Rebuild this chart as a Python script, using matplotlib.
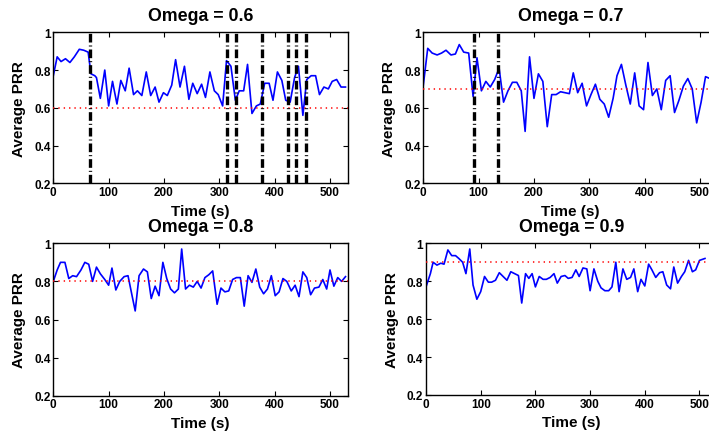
import matplotlib
matplotlib.use("Agg")
import matplotlib.pyplot as plt

plt.rcParams['font.family'] = ['Liberation Sans', 'DejaVu Sans']
plt.rcParams['font.weight'] = 'bold'

# Average PRR traces, one per Omega setting
t_06 = [0, 7, 14, 22, 30, 38, 47, 55, 63, 68, 75, 78, 85, 93, 100, 107, 115, 122,
        130, 137, 145, 152, 160, 168, 176, 184, 191, 199, 206, 214, 221, 229, 237,
        245, 252, 260, 268, 275, 283, 291, 298, 306, 313, 321, 329, 336, 344, 351,
        359, 367, 374, 382, 390, 397, 405, 413, 420, 428, 436, 443, 451, 458, 466,
        474, 481, 489, 497, 504, 512, 520, 528]
prr_06 = [0.77, 0.87, 0.845, 0.86, 0.84, 0.87, 0.91, 0.905, 0.895, 0.78, 0.77, 0.76,
          0.65, 0.80, 0.61, 0.74, 0.62, 0.745, 0.69, 0.81, 0.67, 0.69, 0.665, 0.79,
          0.665, 0.71, 0.63, 0.68, 0.665, 0.72, 0.855, 0.71, 0.82, 0.645, 0.73,
          0.675, 0.725, 0.655, 0.79, 0.69, 0.67, 0.61, 0.85, 0.82, 0.64, 0.69, 0.69,
          0.83, 0.57, 0.61, 0.62, 0.73, 0.73, 0.64, 0.79, 0.745, 0.64, 0.63, 0.76,
          0.82, 0.56, 0.75, 0.77, 0.77, 0.67, 0.71, 0.70, 0.74, 0.75, 0.71, 0.71]

t_07 = [0, 8, 16, 25, 33, 41, 50, 58, 65, 73, 82, 90, 97, 105, 113, 121, 129, 137,
        145, 153, 161, 169, 177, 184, 192, 200, 208, 216, 224, 232, 240, 248, 256,
        264, 271, 279, 287, 295, 303, 311, 319, 327, 335, 343, 350, 358, 366, 374,
        382, 390, 398, 406, 414, 422, 430, 438, 446, 454, 462, 470, 478, 486, 494,
        502, 510, 518, 526]
prr_07 = [0.72, 0.915, 0.89, 0.88, 0.89, 0.905, 0.88, 0.885, 0.935, 0.895, 0.89,
          0.66, 0.865, 0.69, 0.74, 0.71, 0.75, 0.81, 0.63, 0.69, 0.735, 0.735, 0.69,
          0.475, 0.87, 0.65, 0.78, 0.74, 0.50, 0.67, 0.67, 0.685, 0.68, 0.675, 0.785,
          0.68, 0.73, 0.61, 0.67, 0.725, 0.645, 0.62, 0.55, 0.65, 0.77, 0.83, 0.72,
          0.62, 0.785, 0.61, 0.59, 0.84, 0.665, 0.70, 0.59, 0.745, 0.77, 0.575, 0.64,
          0.715, 0.755, 0.70, 0.52, 0.63, 0.765, 0.755, 0.75]

t_08 = [0, 7, 13, 21, 28, 35, 42, 50, 57, 64, 71, 78, 85, 93, 100, 106, 113, 120,
        128, 135, 142, 148, 155, 163, 170, 177, 184, 191, 198, 205, 212, 219, 226,
        232, 239, 246, 253, 260, 267, 274, 281, 288, 296, 303, 310, 317, 324, 331,
        338, 345, 352, 359, 366, 373, 380, 387, 394, 401, 408, 415, 422, 430, 437,
        444, 451, 458, 465, 472, 480, 487, 494, 500, 507, 514, 521, 528]
prr_08 = [0.80, 0.86, 0.90, 0.90, 0.815, 0.83, 0.825, 0.86, 0.90, 0.89, 0.80, 0.875,
          0.84, 0.81, 0.78, 0.87, 0.755, 0.80, 0.825, 0.83, 0.73, 0.645, 0.83, 0.865,
          0.85, 0.71, 0.775, 0.725, 0.90, 0.815, 0.76, 0.74, 0.76, 0.97, 0.76, 0.78,
          0.77, 0.80, 0.765, 0.82, 0.835, 0.855, 0.68, 0.765, 0.745, 0.75, 0.81, 0.82,
          0.82, 0.67, 0.83, 0.795, 0.865, 0.77, 0.735, 0.76, 0.83, 0.725, 0.745,
          0.815, 0.80, 0.75, 0.78, 0.72, 0.85, 0.82, 0.73, 0.765, 0.77, 0.81, 0.76,
          0.86, 0.775, 0.82, 0.80, 0.825]

t_09 = [0, 8, 13, 20, 27, 33, 40, 47, 54, 60, 67, 73, 80, 86, 93, 100, 107, 114,
        120, 127, 134, 141, 148, 155, 162, 169, 175, 182, 188, 194, 200, 207, 214,
        220, 227, 234, 240, 247, 254, 260, 267, 274, 280, 287, 294, 300, 307, 314,
        320, 327, 334, 340, 347, 353, 360, 367, 374, 380, 387, 393, 400, 407, 413,
        420, 427, 433, 440, 447, 453, 460, 467, 473, 480, 487, 493, 500, 510]
prr_09 = [0.77, 0.84, 0.90, 0.885, 0.895, 0.89, 0.965, 0.935, 0.935, 0.92, 0.90,
          0.84, 0.97, 0.78, 0.705, 0.745, 0.825, 0.795, 0.795, 0.805, 0.845, 0.825,
          0.805, 0.85, 0.84, 0.83, 0.685, 0.84, 0.815, 0.84, 0.77, 0.825, 0.81, 0.81,
          0.82, 0.84, 0.79, 0.825, 0.83, 0.815, 0.82, 0.86, 0.825, 0.87, 0.865, 0.75,
          0.865, 0.80, 0.765, 0.75, 0.75, 0.77, 0.90, 0.745, 0.865, 0.81, 0.82, 0.865,
          0.745, 0.81, 0.775, 0.89, 0.86, 0.82, 0.845, 0.85, 0.78, 0.76, 0.875, 0.79,
          0.825, 0.85, 0.91, 0.85, 0.86, 0.91, 0.92]

omegas = [0.6, 0.7, 0.8, 0.9]
switch_06 = [66, 313, 331, 378, 425, 438, 457]
switch_07 = [91, 135]

x_ticks = [0, 100, 200, 300, 400, 500]
y_ticks = [0.2, 0.4, 0.6, 0.8, 1.0]
y_tick_labels = ["0.2", "0.4", "0.6", "0.8", "1"]

W, H = 709, 435
fig = plt.figure(figsize=(W / 100, H / 100), dpi=100)


def px_axes(left, top, right, bottom):
    return fig.add_axes([left / W, (H - bottom) / H, (right - left) / W, (bottom - top) / H])


boxes = [(53.3, 33.3, 347.7, 184.3),
         (423.3, 33.3, 717.7, 184.3),
         (53.3, 244.3, 347.7, 396.7),
         (426.0, 244.3, 717.0, 396.0)]
series = [(t_06, prr_06, switch_06), (t_07, prr_07, switch_07),
          (t_08, prr_08, []), (t_09, prr_09, [])]

for box, omega, (t, prr, switches) in zip(boxes, omegas, series):
    ax = px_axes(*box)
    ax.plot(t, prr, color='#0000ff', lw=1.2, zorder=2)
    ax.axhline(omega, color='#ff0000', lw=1.1, dashes=(0.9, 2.6), zorder=3)
    for s in switches:
        ax.axvline(s, color='black', lw=2.4, dashes=(2.6, 0.9, 0.3, 0.9),
                   dash_capstyle='butt', zorder=4)
    ax.set_xlim(0, 532)
    ax.set_ylim(0.2, 1.0)
    ax.set_xticks(x_ticks)
    ax.set_yticks(y_ticks)
    ax.set_yticklabels(y_tick_labels)
    ax.tick_params(direction='in', top=True, right=True, length=3.5, width=0.8,
                   labelsize=8.5, pad=2)
    for lab in ax.get_xticklabels() + ax.get_yticklabels():
        lab.set_fontweight('bold')
    for sp in ax.spines.values():
        sp.set_linewidth(1.0)
    ax.set_title(f"Omega = {omega}", fontsize=12.8, fontweight='bold', pad=8.5)
    ax.set_xlabel("Time (s)", fontsize=11, fontweight='bold', labelpad=4)
    ax.set_ylabel("Average PRR", fontsize=11, fontweight='bold', labelpad=6)

fig.savefig("out.png", dpi=100)
